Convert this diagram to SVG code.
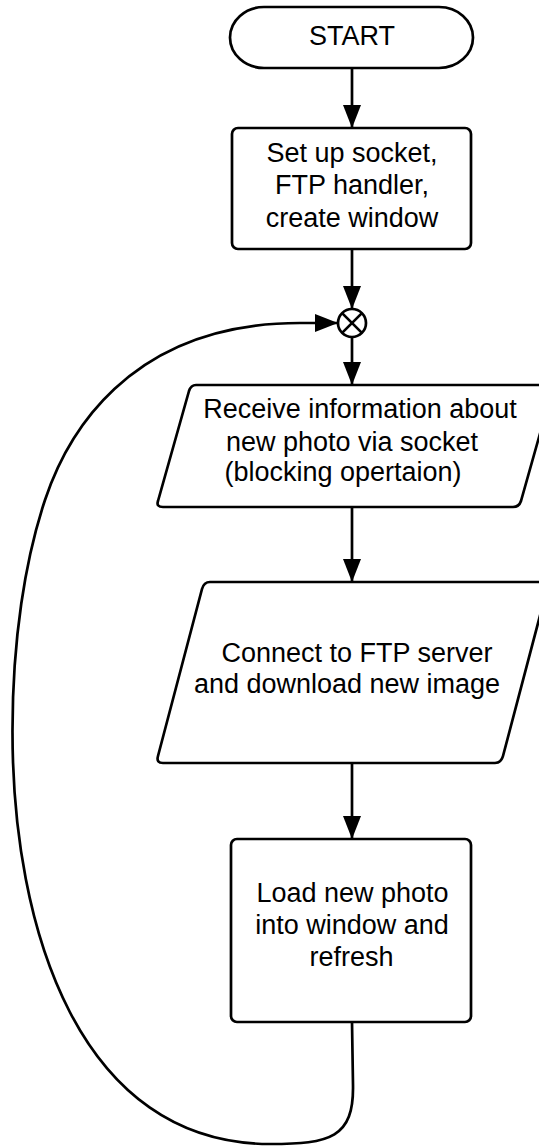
<svg xmlns="http://www.w3.org/2000/svg" width="539" height="1146" viewBox="0 0 539 1146">
  <style>
    .shape { fill: #ffffff; stroke: #000000; stroke-width: 2.7; stroke-linejoin: round; }
    .conn { fill: none; stroke: #000000; stroke-width: 2.7; }
    .label { font-family: "Liberation Sans", Arial, sans-serif; font-size: 27px; fill: #000000; text-anchor: middle; }
  </style>
  <defs>
    <marker id="arrow" markerUnits="userSpaceOnUse" markerWidth="23" markerHeight="18" viewBox="0 0 23 18" refX="23" refY="9" orient="auto">
      <path d="M0,0 L23,9 L0,18 Z" fill="#000000"/>
    </marker>
  </defs>
  <rect width="539" height="1146" fill="#ffffff"/>

  <g id="connectors">
    <path class="conn" d="M352,68 L352,128" marker-end="url(#arrow)"/>
    <path class="conn" d="M352,249 L352,309" marker-end="url(#arrow)"/>
    <path class="conn" d="M352,337 L352,385" marker-end="url(#arrow)"/>
    <path class="conn" d="M352,507 L352,582" marker-end="url(#arrow)"/>
    <path class="conn" d="M352,763 L352,839" marker-end="url(#arrow)"/>
    <path class="conn" d="M352,1022 L353,1085 C354,1138 330,1144 270,1144 C80,1144 12,930 12.5,730 C12.5,640 25,560 45,500 C65,440 125,323 300,323 L338,323" marker-end="url(#arrow)"/>
  </g>

  <g id="start">
    <rect class="shape" x="230" y="7" width="243" height="61" rx="34" ry="30.5"/>
    <text class="label" x="352" y="45">START</text>
  </g>

  <g id="setup">
    <rect class="shape" x="232" y="128" width="239" height="121" rx="6" ry="6"/>
    <text class="label" x="352" y="161.5">Set up socket,</text>
    <text class="label" x="352" y="194">FTP handler,</text>
    <text class="label" x="352" y="226.5">create window</text>
  </g>

  <g id="junction">
    <circle class="shape" cx="352" cy="323" r="14"/>
    <path class="conn" d="M342.1,313.1 L361.9,332.9 M361.9,313.1 L342.1,332.9"/>
  </g>

  <g id="receive">
    <path class="shape" d="M196,385 L547,385 Q554,385 552,391 L521,501 Q519,507 513,507 L163,507 Q156,507 158,501 L189,391 Q191,385 196,385 Z"/>
    <text class="label" x="360" y="418.3">Receive information about</text>
    <text class="label" x="352" y="450.7">new photo via socket</text>
    <text class="label" x="343" y="481">(blocking opertaion)</text>
  </g>

  <g id="download">
    <path class="shape" d="M210,582 L542,582 Q549,582 547,589 L503,756 Q501,763 495,763 L163,763 Q156,763 158,756 L202,589 Q204,582 210,582 Z"/>
    <text class="label" x="357" y="661.7">Connect to FTP server</text>
    <text class="label" x="347" y="693.3">and download new image</text>
  </g>

  <g id="refresh">
    <rect class="shape" x="231" y="839" width="240" height="183" rx="6" ry="6"/>
    <text class="label" x="352.5" y="901.7">Load new photo</text>
    <text class="label" x="352" y="933.5">into window and</text>
    <text class="label" x="351.5" y="966">refresh</text>
  </g>
</svg>
